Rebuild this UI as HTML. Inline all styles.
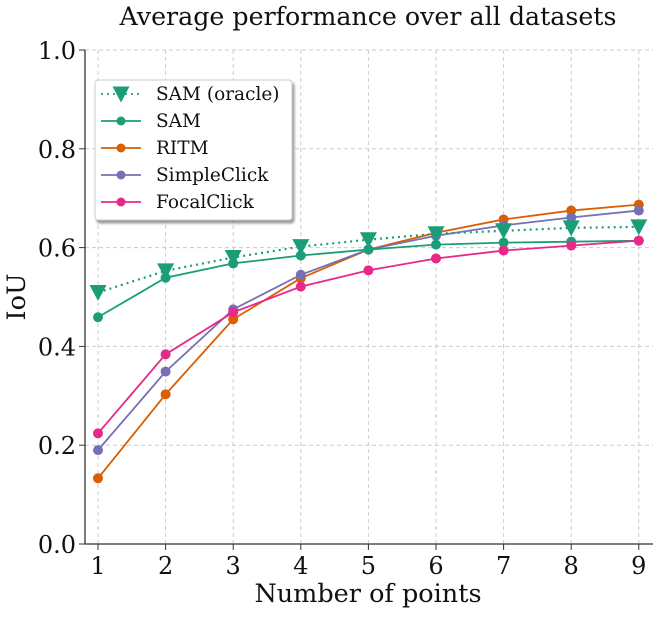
<!DOCTYPE html>
<html><head><meta charset="utf-8"><style>
body{margin:0;background:#fff}
svg text{font-family:"DejaVu Serif","Liberation Serif",serif;fill:#111}
</style></head><body>
<svg width="662" height="614" xmlns="http://www.w3.org/2000/svg">
<defs><filter id="sh" x="-10%" y="-10%" width="130%" height="130%"><feDropShadow dx="2" dy="3" stdDeviation="1.2" flood-color="#000" flood-opacity="0.4"/></filter></defs>
<text x="368" y="25" font-size="25.3" text-anchor="middle">Average performance over all datasets</text>
<g id="grid"></g>
<g id="axes"></g>
<g id="series"></g>
<g id="legend"></g>
</svg>
<script>
const xs=[1,2,3,4,5,6,7,8,9];
const yTicks=[0,0.2,0.4,0.6,0.8,1.0];
const yTickLabels=["0.0","0.2","0.4","0.6","0.8","1.0"];
const samOracle=[0.509,0.553,0.580,0.602,0.616,0.628,0.634,0.640,0.642];
const sam=[0.459,0.539,0.568,0.584,0.596,0.606,0.610,0.612,0.614];
const ritm=[0.133,0.303,0.455,0.538,0.596,0.630,0.657,0.675,0.687];
const simpleClick=[0.190,0.349,0.475,0.545,0.596,0.624,0.645,0.661,0.675];
const focalClick=[0.224,0.384,0.469,0.521,0.554,0.578,0.594,0.604,0.614];
const names=["SAM (oracle)","SAM","RITM","SimpleClick","FocalClick"];
const NS="http://www.w3.org/2000/svg";
const L=85,R=653,T=50,B=544;
const X=v=>98+(v-1)*67.6;
const Y=v=>B-v*(B-T);
function mk(t,a,p){const e=document.createElementNS(NS,t);for(const k in a)e.setAttribute(k,a[k]);p.appendChild(e);return e;}
const g=document.getElementById('grid'),ax=document.getElementById('axes'),s=document.getElementById('series'),lg=document.getElementById('legend');
xs.forEach(v=>{const l=mk('line',{x1:X(v),x2:X(v),y1:T,y2:B,stroke:'#ccc','stroke-dasharray':'4,3','stroke-width':1},g);

const t=mk('line',{x1:X(v),x2:X(v),y1:B,y2:B+6,stroke:'#333'},ax);
const tx=mk('text',{x:X(v),y:B+30,'font-size':24,'text-anchor':'middle'},ax);tx.textContent=v;
});
yTicks.forEach((v,i)=>{if(v>0){const l=mk('line',{x1:L,x2:R,y1:Y(v),y2:Y(v),stroke:'#ccc','stroke-dasharray':'4,3'},g);
}
mk('line',{x1:L-6,x2:L,y1:Y(v),y2:Y(v),stroke:'#333'},ax);
const tx=mk('text',{x:L-9,y:Y(v)+9,'font-size':24,'text-anchor':'end'},ax);tx.textContent=yTickLabels[i];
});
mk('line',{x1:L,x2:L,y1:T,y2:B,stroke:'#333','stroke-width':1.3},ax);
mk('line',{x1:L,x2:R,y1:B,y2:B,stroke:'#333','stroke-width':1.3},ax);
const xt=mk('text',{x:368,y:602,'font-size':25.5,'text-anchor':'middle'},ax);xt.textContent='Number of points';

const yt=mk('text',{x:0,y:0,'font-size':25.5,'text-anchor':'middle',transform:'translate(25,297) rotate(-90)'},ax);yt.textContent='IoU';

const cols=['#1b9e77','#1b9e77','#d95f02','#7570b3','#e7298a'];
const data=[samOracle,sam,ritm,simpleClick,focalClick];
function tri(x,y,c,p){return mk('path',{d:`M${x-8.5},${y-7.5} L${x+8.5},${y-7.5} L${x},${y+8.5} Z`,fill:c},p);}
[2,3,1,4,0].forEach(k=>{const d=data[k];const grp=mk('g',{},s);


const pl=mk('polyline',{points:d.map((v,i)=>X(xs[i])+','+Y(v)).join(' '),fill:'none',stroke:cols[k],'stroke-width':1.8},grp);
if(k==0){pl.setAttribute('stroke-dasharray','2,4');pl.setAttribute('stroke-width',2.2);}
d.forEach((v,i)=>{let m;if(k==0)m=tri(X(xs[i]),Y(v),cols[k],grp);else m=mk('circle',{cx:X(xs[i]),cy:Y(v),r:5,fill:cols[k]},grp);
});});
const box=mk('rect',{x:95,y:80,width:197,height:140,rx:3,fill:'#fff',stroke:'#ccc',filter:'url(#sh)'},lg);

names.forEach((n,k)=>{const y=94+k*27;const e=mk('g',{},lg);

const ln=mk('line',{x1:101,x2:141,y1:y,y2:y,stroke:cols[k],'stroke-width':1.8},e);
if(k==0){ln.setAttribute('stroke-dasharray','2,4');tri(121,y,cols[k],e);}else mk('circle',{cx:121,cy:y,r:4.5,fill:cols[k]},e);
const t=mk('text',{x:156,y:y+6,'font-size':18.5},e);t.textContent=n;});
</script>
</body></html>
